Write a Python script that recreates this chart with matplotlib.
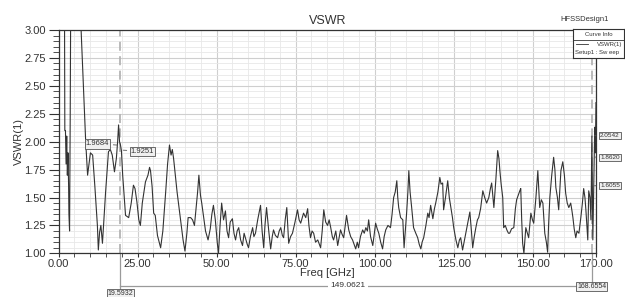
import matplotlib
matplotlib.use("Agg")
import matplotlib.pyplot as plt
from matplotlib.ticker import MultipleLocator, FixedLocator
from matplotlib.transforms import blended_transform_factory

plt.rcParams['font.family'] = ['Liberation Sans', 'DejaVu Sans']

# sweep data
freq = [0.0, 1.5, 1.9, 2.0, 2.2, 2.4, 2.6, 2.8, 3.0, 3.2, 3.3, 3.5, 3.7, 3.9, 5.0,
        7.0, 8.0, 8.6, 9.2, 10.1, 10.8, 11.5, 12.3, 12.6, 13.0, 13.4, 13.9, 14.9, 15.8,
        16.4, 17.0, 17.7, 18.3, 18.7, 19.0, 19.3, 19.6, 19.9, 20.3, 21.2, 22.2, 23.0,
        23.7, 24.2, 24.8, 25.4, 25.9, 26.5, 27.5, 28.3, 28.8, 29.1, 29.6, 30.1, 30.6,
        31.3, 32.3, 33.0, 33.9, 34.5, 35.1, 35.6, 36.0, 36.4, 37.5, 38.6, 39.4, 40.0,
        40.6, 41.0, 41.8, 42.4, 43.0, 43.5, 44.0, 44.4, 44.9, 45.3, 46.0, 46.5, 47.3,
        48.0, 48.5, 49.0, 49.6, 50.2, 50.6, 51.1, 51.6, 52.2, 52.8, 53.3, 53.8, 54.3,
        55.0, 55.5, 56.0, 56.5, 57.0, 57.6, 58.2, 58.7, 59.2, 59.7, 60.1, 60.7, 61.4,
        61.8, 62.3, 63.0, 63.9, 64.4, 64.9, 65.3, 65.8, 66.5, 67.1, 67.6, 68.0, 68.6,
        69.3, 69.8, 70.3, 70.8, 71.2, 71.7, 72.2, 72.8, 73.4, 74.0, 74.8, 75.6, 76.1,
        76.6, 77.5, 78.2, 78.8, 79.2, 79.7, 80.2, 80.7, 81.3, 82.0, 82.9, 83.4, 83.9,
        84.5, 85.1, 85.6, 86.1, 86.6, 87.0, 87.7, 88.3, 88.8, 89.2, 89.7, 90.2, 90.7,
        91.1, 91.8, 92.4, 93.0, 93.5, 94.0, 94.5, 94.9, 95.5, 96.2, 96.7, 97.2, 97.7,
        98.1, 98.7, 99.4, 99.9, 100.3, 100.8, 101.3, 101.9, 102.5, 103.0, 103.5, 104.2,
        105.0, 105.5, 106.0, 106.5, 107.0, 107.3, 107.6, 108.2, 108.9, 109.3, 109.8,
        110.1, 110.5, 110.8, 111.2, 111.7, 112.3, 113.0, 113.6, 114.1, 114.6, 115.0,
        115.5, 116.2, 116.8, 117.2, 117.7, 118.0, 118.4, 118.9, 119.3, 120.0, 120.6,
        121.0, 121.5, 121.8, 122.4, 123.1, 123.6, 124.1, 124.6, 125.0, 125.7, 126.3,
        126.8, 127.2, 127.8, 128.4, 129.1, 129.6, 130.1, 130.6, 131.0, 131.5, 132.0,
        132.5, 132.9, 133.5, 134.2, 134.8, 135.4, 136.1, 136.6, 137.0, 137.4, 137.7,
        138.3, 138.9, 139.3, 139.6, 140.0, 140.5, 140.8, 141.3, 141.8, 142.3, 142.7,
        143.3, 144.0, 144.5, 144.9, 145.4, 145.9, 146.2, 146.5, 146.8, 147.2, 147.8,
        148.3, 148.7, 149.4, 149.9, 150.3, 151.0, 151.6, 152.2, 152.7, 153.2, 153.8,
        154.3, 154.7, 155.0, 155.4, 156.0, 156.6, 157.0, 157.3, 157.8, 158.2, 158.6,
        158.9, 159.5, 160.0, 160.4, 160.9, 161.4, 162.0, 162.4, 162.7, 163.1, 163.6,
        164.0, 164.6, 165.2, 165.7, 166.1, 166.5, 166.8, 167.1, 167.4, 167.7, 168.1,
        168.4, 168.7, 169.0, 169.3, 169.6, 169.8, 170.0]
vswr = [4.0, 3.8, 3.2, 2.1, 2.1, 1.8, 2.05, 1.7, 1.9, 1.6, 1.35, 1.2, 2.2, 3.5, 4.5,
        3.1, 2.4, 2.0, 1.70, 1.90, 1.88, 1.6, 1.25, 1.03, 1.19, 1.25, 1.09, 1.55, 1.91,
        1.93, 1.88, 1.73, 1.85, 2.0, 2.15, 2.0, 1.97, 1.92, 1.70, 1.34, 1.32, 1.45,
        1.61, 1.58, 1.46, 1.30, 1.25, 1.45, 1.64, 1.70, 1.77, 1.74, 1.6, 1.36, 1.34,
        1.16, 1.05, 1.2, 1.55, 1.8, 1.97, 1.88, 1.93, 1.85, 1.55, 1.3, 1.12, 1.02,
        1.18, 1.32, 1.32, 1.30, 1.25, 1.40, 1.55, 1.70, 1.52, 1.45, 1.30, 1.20, 1.12,
        1.22, 1.35, 1.43, 1.30, 1.10, 1.0, 1.25, 1.45, 1.30, 1.38, 1.20, 1.14, 1.28,
        1.31, 1.18, 1.12, 1.20, 1.23, 1.12, 1.07, 1.18, 1.13, 1.08, 1.05, 1.15, 1.23,
        1.15, 1.18, 1.30, 1.43, 1.20, 1.05, 1.25, 1.41, 1.20, 1.04, 1.15, 1.21, 1.16,
        1.14, 1.20, 1.23, 1.16, 1.14, 1.30, 1.41, 1.09, 1.15, 1.18, 1.28, 1.39, 1.30,
        1.27, 1.36, 1.32, 1.40, 1.25, 1.14, 1.20, 1.18, 1.10, 1.12, 1.05, 1.20, 1.39,
        1.28, 1.25, 1.30, 1.23, 1.15, 1.12, 1.20, 1.07, 1.15, 1.21, 1.17, 1.14, 1.25,
        1.34, 1.21, 1.15, 1.12, 1.08, 1.04, 1.10, 1.05, 1.15, 1.21, 1.18, 1.23, 1.20,
        1.30, 1.15, 1.07, 1.18, 1.27, 1.22, 1.18, 1.10, 1.04, 1.15, 1.21, 1.25,
        1.23, 1.35, 1.50, 1.55, 1.65, 1.50, 1.41, 1.32, 1.30, 1.05, 1.25,
        1.36, 1.55, 1.74, 1.55, 1.41, 1.23, 1.18, 1.14, 1.08, 1.04, 1.10,
        1.14, 1.25, 1.36, 1.32, 1.43, 1.38, 1.31, 1.40, 1.45, 1.55, 1.68,
        1.62, 1.63, 1.39, 1.50, 1.65, 1.50, 1.41, 1.32, 1.23, 1.12, 1.05,
        1.12, 1.14, 1.03, 1.12, 1.23, 1.30, 1.37, 1.20, 1.05, 1.15, 1.23,
        1.30, 1.32, 1.40, 1.56, 1.50, 1.45, 1.50, 1.58, 1.63, 1.50, 1.41,
        1.65, 1.92, 1.85, 1.74, 1.62, 1.50, 1.23, 1.25, 1.21, 1.18, 1.18,
        1.22, 1.23, 1.40, 1.48, 1.52, 1.56, 1.58, 1.30, 1.09, 1.00, 1.23,
        1.18, 1.14, 1.36, 1.30, 1.27, 1.50, 1.74, 1.41, 1.48, 1.45, 1.18,
        1.10, 1.01, 1.25, 1.50, 1.70, 1.86, 1.75, 1.59, 1.50, 1.39, 1.60,
        1.74, 1.82, 1.70, 1.54, 1.45, 1.41, 1.45, 1.38, 1.32, 1.22, 1.14,
        1.20, 1.18, 1.32, 1.45, 1.58, 1.50, 1.39, 1.25, 1.12, 1.56, 1.50,
        1.30, 2.05, 1.12, 1.60, 2.13, 1.90, 2.35]

marker_a = 19.5932
marker_b = 168.6554
delta_label = "149.0621"
left_vals = ["1.9684", "1.9251"]
right_vals = [2.0542, 1.8620, 1.6055]

fig = plt.figure(figsize=(6.25, 2.97), dpi=100)
ax = fig.add_axes([0.0936, 0.147, 0.86, 0.752])

ax.plot(freq, vswr, color='#333333', lw=0.8, zorder=3)
ax.set_xlim(0, 170)
ax.set_ylim(1, 3)

ax.xaxis.set_major_locator(FixedLocator([0, 25, 50, 75, 100, 125, 150, 170]))
ax.xaxis.set_minor_locator(MultipleLocator(5))
ax.yaxis.set_major_locator(MultipleLocator(0.25))
ax.yaxis.set_minor_locator(MultipleLocator(0.05))
ax.xaxis.set_major_formatter(lambda v, p: f"{v:.2f}")
ax.yaxis.set_major_formatter(lambda v, p: f"{v:.2f}")
ax.tick_params(axis='both', which='major', labelsize=8, colors='#333333', direction='out')
ax.tick_params(axis='y', which='major', length=7, width=0.8, pad=2)
ax.tick_params(axis='y', which='minor', length=4, width=0.6, colors='#333333')
ax.tick_params(axis='x', which='major', length=3, pad=1)
ax.tick_params(axis='x', which='minor', length=3, width=0.6, colors='#333333')
ax.grid(which='major', color='#cfcfcf', lw=0.8, zorder=0)
ax.grid(which='minor', color='#e8e8e8', lw=0.6, zorder=0)
ax.set_axisbelow(True)
for s in ax.spines.values():
    s.set_color('#333333')
    s.set_linewidth(0.9)

ax.set_title("VSWR", fontsize=9, color='#333333', pad=4)
ax.set_xlabel("Freq [GHz]", fontsize=8, color='#333333', labelpad=-1)
ax.set_ylabel("VSWR(1)", fontsize=8, color='#333333', labelpad=0)

# marker lines
tr = blended_transform_factory(ax.transData, ax.transAxes)
for mx, ybot in [(marker_a, -0.165), (marker_b, -0.13)]:
    ax.plot([mx, mx], [0, 1], transform=tr, color='#b4b4b4', lw=1.3,
            ls=(0, (5, 3)), zorder=2)
    ax.plot([mx, mx], [ybot, 0], transform=tr, color='#9a9a9a', lw=0.9,
            clip_on=False)
ax.plot([marker_a, marker_b], [-0.145, -0.145], transform=tr, color='#9a9a9a',
        lw=0.9, clip_on=False)
box = dict(boxstyle='square,pad=0.15', fc='#f0f0f0', ec='#555555', lw=0.6)
ax.text(91.5, -0.145, delta_label, transform=tr, fontsize=6, color='#333333',
        ha='center', va='center', bbox=dict(boxstyle='square,pad=0.3', fc='white', ec='none'))
ax.text(marker_a, -0.182, f"{marker_a:.4f}", transform=tr, fontsize=5, ha='center',
        va='center', bbox=box, color='#333333')
ax.text(marker_b, -0.147, f"{marker_b:.4f}", transform=tr, fontsize=5, ha='center',
        va='center', bbox=box, color='#333333')

# marker value tags
arrow = dict(arrowstyle='-', color='#555555', lw=0.6)
ax.annotate(left_vals[0], xy=(marker_a, 1.968), xytext=(12.3, 1.98), fontsize=5.5,
            ha='center', va='center', bbox=box, arrowprops=arrow, color='#333333')
ax.annotate(left_vals[1], xy=(marker_a, 1.925), xytext=(26.6, 1.915), fontsize=5.5,
            ha='center', va='center', bbox=box, arrowprops=arrow, color='#333333')
for v in right_vals:
    ax.annotate(f"{v:.4f}", xy=(marker_b, v), xytext=(171.3, v), fontsize=4.6,
                ha='left', va='center', bbox=box, arrowprops=arrow,
                color='#333333', annotation_clip=False)

# legend panel like HFSS
fig.text(0.935, 0.933, "HFSSDesign1", fontsize=5.5, ha='center', va='center', color='#333333')
lg = fig.add_axes([0.917, 0.805, 0.0815, 0.097])
lg.set_xlim(0, 1)
lg.set_ylim(0, 1)
lg.set_xticks([])
lg.set_yticks([])
lg.set_facecolor('white')
for s in lg.spines.values():
    s.set_color('#333333')
    s.set_linewidth(0.8)
lg.axhline(0.62, color='#333333', lw=0.6)
lg.text(0.5, 0.82, "Curve Info", fontsize=4.3, ha='center', va='center', color='#333333')
lg.plot([0.05, 0.3], [0.47, 0.47], color='#333333', lw=0.6)
lg.text(0.97, 0.47, "VSWR(1)", fontsize=4.3, ha='right', va='center', color='#333333')
lg.text(0.03, 0.2, "Setup1 : Sw eep", fontsize=4.3, ha='left', va='center', color='#333333')

fig.savefig("out.png", dpi=100)
